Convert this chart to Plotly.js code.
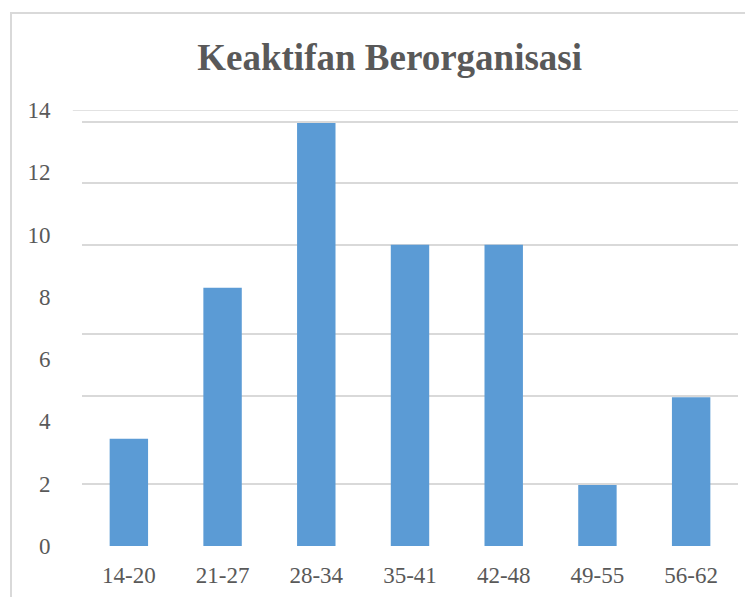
<!DOCTYPE html>
<html>
<head>
<meta charset="utf-8">
<script src="https://cdn.plot.ly/plotly-3.0.1.min.js"></script>
<style>
  html, body { margin: 0; padding: 0; background: #ffffff; overflow: hidden; }
  #frame { position: absolute; left: 10px; top: 12px; width: 900px; height: 800px;
           border-left: 2px solid #d9d9d9; border-top: 2px solid #d9d9d9; }
  #chart { position: absolute; left: 0; top: 0; width: 745px; height: 597px; }
</style>
</head>
<body>
<div id="frame"></div>
<div id="chart"></div>
<script>
// Data
const categories = ["14-20", "21-27", "28-34", "35-41", "42-48", "49-55", "56-62"];
const counts = [3.44, 8.29, 13.58, 9.67, 9.67, 1.96, 4.78];
const yTickVals = [0, 2, 4, 6, 8, 10, 12, 14];
const yTickText = ["0", "2", "4", "6", "8", "10", "12", "14"];
// horizontal gridlines as they appear in the picture (in axis units)
const gridVals = [0, 1.99, 4.82, 6.81, 9.67, 11.66, 13.62];
const topLineVal = 14;

const textColor = "#595959";
const gridColor = "#d9d9d9";
const serif = "Liberation Serif, Times New Roman, serif";

const trace = {
  type: "bar",
  x: categories,
  y: counts,
  marker: { color: "#5b9bd5" },
  hoverinfo: "x+y",
  showlegend: false
};

const layout = {
  width: 745,
  height: 597,
  margin: { l: 82, r: 7, t: 110, b: 51 },
  paper_bgcolor: "rgba(0,0,0,0)",
  plot_bgcolor: "rgba(0,0,0,0)",
  bargap: 0.59,
  title: {
    text: "<b>Keaktifan Berorganisasi</b>",
    font: { family: serif, size: 37, color: textColor },
    x: 0.523, xanchor: "center",
    y: 0.905, yanchor: "middle"
  },
  xaxis: {
    type: "category",
    showgrid: false,
    zeroline: false,
    showline: false,
    ticks: "outside",
    ticklen: 8,
    tickcolor: "rgba(0,0,0,0)",
    tickfont: { family: serif, size: 23, color: textColor }
  },
  yaxis: {
    range: [0, 14],
    tickmode: "array",
    tickvals: gridVals,
    showticklabels: false,
    showgrid: true,
    gridcolor: gridColor,
    gridwidth: 1.6,
    zeroline: false,
    showline: false,
    ticks: ""
  },
  yaxis2: {
    overlaying: "y",
    side: "left",
    anchor: "x",
    range: [0, 14],
    tickmode: "array",
    tickvals: yTickVals,
    ticktext: yTickText,
    showgrid: false,
    zeroline: false,
    showline: false,
    ticks: "outside",
    ticklen: 26,
    tickcolor: "rgba(0,0,0,0)",
    tickfont: { family: serif, size: 23, color: textColor }
  },
  shapes: [{
    type: "line",
    xref: "paper", yref: "y",
    x0: -0.014, x1: 1.0,
    y0: topLineVal, y1: topLineVal,
    line: { color: gridColor, width: 1.6 },
    layer: "below"
  }]
};

// invisible helper trace so yaxis2 is drawn
const axisTrace = {
  type: "scatter", x: [categories[0]], y: [0], yaxis: "y2",
  mode: "markers", marker: { opacity: 0 }, hoverinfo: "skip", showlegend: false
};

Plotly.newPlot("chart", [trace, axisTrace], layout, { displayModeBar: false, staticPlot: true });
</script>
</body>
</html>
